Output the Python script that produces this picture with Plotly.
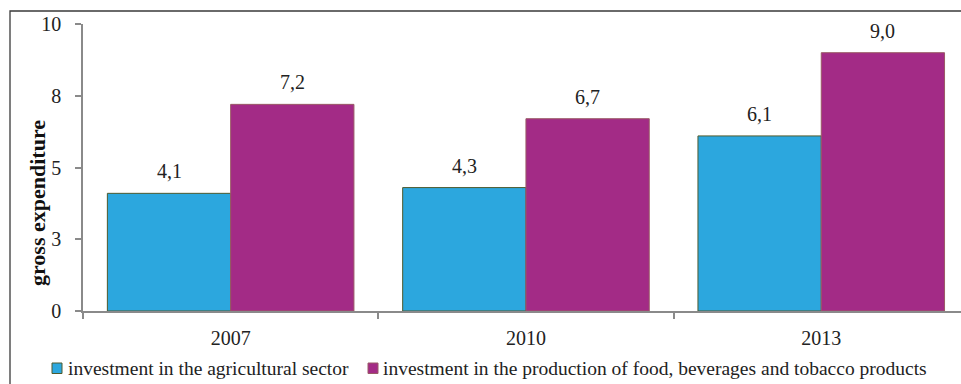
import plotly.graph_objects as go

# Gross expenditure by year
years = ["2007", "2010", "2013"]
agri_values = [4.1, 4.3, 6.1]
food_values = [7.2, 6.7, 9.0]
series_names = [
    "investment in the agricultural sector",
    "investment in the production of food, beverages and tobacco products",
]
y_tickvals = [0, 2.5, 5, 7.5, 10]
y_ticktext = ["0", "3", "5", "8", "10"]
y_title = "gross expenditure"

FONT = "Liberation Serif, Times New Roman, serif"
BLUE, BLUE_EDGE = "#2CA7DE", "#4E5A2E"
PURPLE, PURPLE_EDGE = "#A32B86", "#9A5A66"
AXIS_GREY = "#8A8A8A"
TEXT = "#222222"

W, H = 961, 384
M_L, M_R, M_T, M_B = 83, 0, 24, 73
PW, PH = W - M_L - M_R, H - M_T - M_B
BARGAP = 0.165
CAT_PX = 295.3  # width of one category in pixels

def px_x(px):
    return (px - M_L) / PW

def px_y(py):
    return (H - M_B - py) / PH

def fmt(v):
    return f"{v:.1f}".replace(".", ",")

fig = go.Figure()
fig.add_bar(x=years, y=agri_values, name=series_names[0],
            marker=dict(color=BLUE, line=dict(color=BLUE_EDGE, width=1)),
            showlegend=False)
fig.add_bar(x=years, y=food_values, name=series_names[1],
            marker=dict(color=PURPLE, line=dict(color=PURPLE_EDGE, width=1)),
            showlegend=False)

# value labels above each bar
half = (1 - BARGAP) / 4
annotations = []
for offset, vals in ((-half, agri_values), (half, food_values)):
    for i, v in enumerate(vals):
        annotations.append(dict(
            x=i + offset, y=v, xref="x", yref="y", text=fmt(v),
            showarrow=False, yanchor="bottom", yshift=9,
            font=dict(family=FONT, size=20, color=TEXT),
        ))

# y-axis title
annotations.append(dict(x=px_x(37), y=px_y(203), xref="paper", yref="paper",
                        text=f"<b>{y_title}</b>", textangle=-90, showarrow=False,
                        xanchor="center", yanchor="middle",
                        font=dict(family=FONT, size=22, color="#111111")))

# legend drawn below the axis
legend_items = [(52, 66, BLUE, BLUE_EDGE, series_names[0]),
                (368, 381, PURPLE, PURPLE_EDGE, series_names[1])]
shapes = []
for sq_x, tx, fill, edge, label in legend_items:
    shapes.append(dict(type="rect", xref="paper", yref="paper",
                       x0=px_x(sq_x), x1=px_x(sq_x + 10),
                       y0=px_y(373.5), y1=px_y(363),
                       fillcolor=fill, line=dict(color=edge, width=1)))
    annotations.append(dict(x=px_x(tx), y=px_y(368), xref="paper", yref="paper",
                            text=label, showarrow=False, xanchor="left",
                            yanchor="middle",
                            font=dict(family=FONT, size=19.5, color=TEXT)))

# outer frame
shapes.append(dict(type="rect", xref="paper", yref="paper",
                   x0=px_x(10), x1=1.2, y0=-0.5, y1=px_y(11),
                   line=dict(color="#3A3A3A", width=1.3), fillcolor="rgba(0,0,0,0)",
                   layer="below"))

fig.update_layout(
    width=W, height=H,
    margin=dict(l=M_L, r=M_R, t=M_T, b=M_B, pad=0),
    paper_bgcolor="white", plot_bgcolor="white",
    barmode="group", bargap=BARGAP, bargroupgap=0,
    font=dict(family=FONT, size=20, color=TEXT),
    annotations=annotations, shapes=shapes,
    xaxis=dict(type="category", range=[-0.5, 2.5 - (M_L + 3 * CAT_PX - W) / CAT_PX],
               showline=True, linecolor=AXIS_GREY, linewidth=1.5,
               ticks="outside", tickson="boundaries", ticklen=6,
               tickcolor=AXIS_GREY, tickwidth=1.5, ticklabelstandoff=8,
               tickfont=dict(family=FONT, size=20, color=TEXT),
               showgrid=False, zeroline=False, fixedrange=True),
    yaxis=dict(range=[0, 10], tickvals=y_tickvals, ticktext=y_ticktext,
               showline=True, linecolor=AXIS_GREY, linewidth=1.5,
               ticks="outside", ticklen=6, tickcolor=AXIS_GREY, tickwidth=1.5,
               ticklabelstandoff=10,
               tickfont=dict(family=FONT, size=20, color=TEXT),
               showgrid=False, zeroline=False, fixedrange=True),
    showlegend=False,
)

fig.write_html("out.html")
